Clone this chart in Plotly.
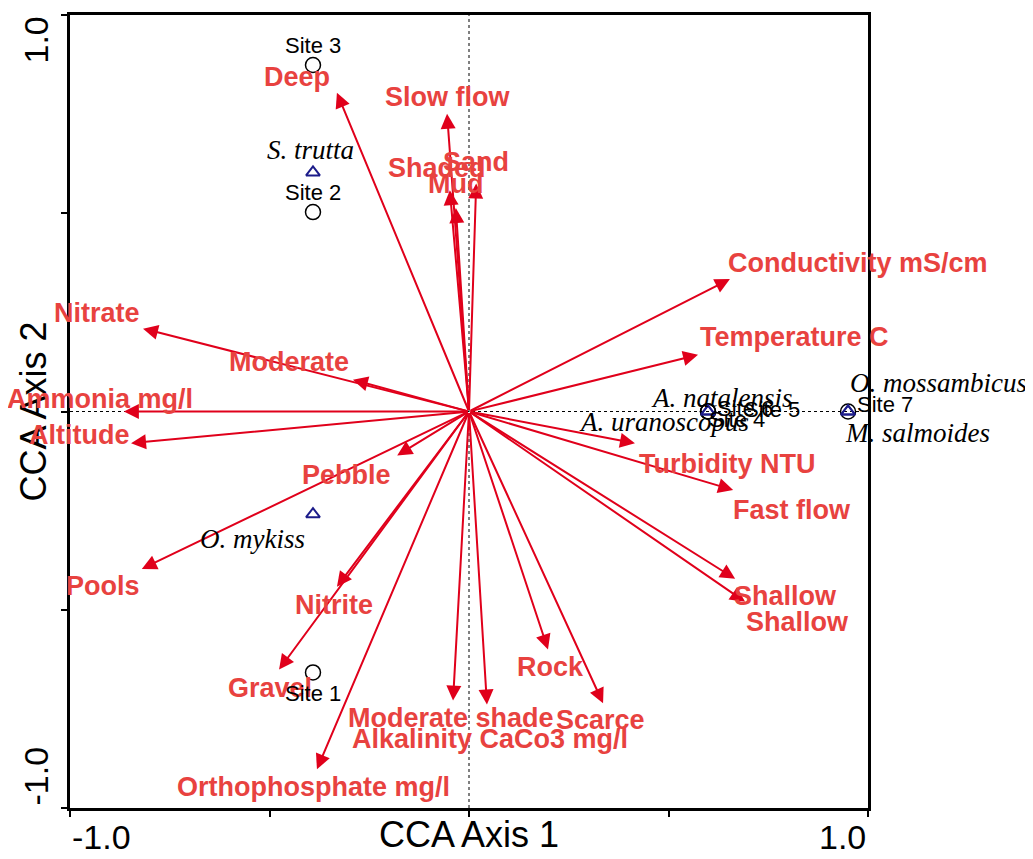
import plotly.graph_objects as go

# ---------------- data ----------------
env_labels = ["Deep", "Slow flow", "Shaded", "Mud", "Sand", "Conductivity mS/cm",
              "Temperature C", "Nitrate", "Moderate", "Ammonia mg/l", "Altitude",
              "Pebble", "Pools", "Nitrite", "Gravel", "Orthophosphate mg/l",
              "Moderate shade", "Alkalinity CaCo3 mg/l", "Rock", "Scarce",
              "Turbidity NTU", "Fast flow", "Shallow", "Shallow"]
env_x = [-0.331, -0.055, -0.048, -0.033, 0.018, 0.654,
         0.574, -0.817, -0.291, -0.865, -0.847,
         -0.180, -0.820, -0.331, -0.476, -0.381,
         -0.040, 0.045, 0.198, 0.336,
         0.416, 0.662, 0.667, 0.692]
env_y = [0.804, 0.751, 0.558, 0.513, 0.575, 0.334,
         0.143, 0.209, 0.080, 0.0, -0.080,
         -0.111, -0.397, -0.442, -0.651, -0.902,
         -0.729, -0.739, -0.600, -0.736,
         -0.080, -0.198, -0.422, -0.480]

site_names = ["Site 1", "Site 2", "Site 3", "Site 4", "Site 5", "Site 6", "Site 7"]
site_x = [-0.391, -0.391, -0.391, 0.599, 0.599, 0.599, 0.950]
site_y = [-0.658, 0.503, 0.874, 0.0, 0.0, 0.0, 0.0]

species_names = ["S. trutta", "O. mykiss", "A. natalensis", "A. uranoscopus",
                 "O. mossambicus", "M. salmoides"]
species_x = [-0.391, -0.391, 0.599, 0.599, 0.950, 0.950]
species_y = [0.603, -0.259, 0.0, 0.0, 0.0, 0.0]

x_tick_vals = [-1.0, -0.5, 0.0, 0.5, 1.0]
y_tick_vals = [-1.0, -0.5, 0.0, 0.5, 1.0]
x_tick_labels = ["-1.0", "1.0"]
y_tick_labels = ["-1.0", "1.0"]

# ---------------- styles (label pixel offsets: dx right, dy down) ----------------
env_offsets = [(-40, -16), (0, -17), (-13, -22), (0, -24), (0, -22), (128, -16),
               (96, -18), (-46, -16), (-64, -18), (-24, -13), (-52, -8),
               (-51, 19), (-39, 17), (-3, 18), (-9, 18), (-3, 18),
               (-2, 17), (3, 34), (2, 18), (-3, 17),
               (92, 21), (59, 20), (50, 17), (52, 20)]
site_offsets = [(0, 21), (0, -20), (0, -19), (29, 8), (64, -2), (37, -3), (37, -7)]
species_offsets = [(-2, -22), (-60, 25), (14, -14), (-44, 10), (90, -29), (69, 21)]

ARROW = "#e0001b"
LABEL = "#e8423f"
NAVY = "#1c1c8a"
SANS = "Liberation Sans, Arial, sans-serif"
SERIF = "Liberation Serif, Times New Roman, serif"

fig = go.Figure()

# zero reference lines
fig.add_shape(type="line", xref="x", yref="y", x0=-1, x1=1, y0=0, y1=0,
              line=dict(color="black", width=1, dash="dot"), layer="below")
fig.add_shape(type="line", xref="x", yref="y", x0=0, x1=0, y0=-1, y1=1,
              line=dict(color="black", width=1, dash="dot"), layer="below")

annotations = []
# biplot arrows
for lab, x, y in zip(env_labels, env_x, env_y):
    annotations.append(dict(x=x, y=y, ax=0, ay=0, xref="x", yref="y",
                            axref="x", ayref="y", text="", showarrow=True,
                            arrowhead=2, arrowsize=1.5, arrowwidth=2,
                            arrowcolor=ARROW))
for lab, x, y, (dx, dy) in zip(env_labels, env_x, env_y, env_offsets):
    annotations.append(dict(x=x, y=y, xref="x", yref="y", text=lab,
                            showarrow=False, xshift=dx, yshift=-dy,
                            font=dict(family=SANS, size=27, color=LABEL,
                                      weight="bold")))

# site points
fig.add_trace(go.Scatter(x=site_x, y=site_y, mode="markers",
                         marker=dict(symbol="circle-open", size=15,
                                     color="black", line=dict(width=1.5)),
                         hoverinfo="text", text=site_names, showlegend=False))
for lab, x, y, (dx, dy) in zip(site_names, site_x, site_y, site_offsets):
    annotations.append(dict(x=x, y=y, xref="x", yref="y", text=lab,
                            showarrow=False, xshift=dx, yshift=-dy,
                            font=dict(family=SANS, size=22, color="black")))

# species points
fig.add_trace(go.Scatter(x=species_x, y=species_y, mode="markers",
                         marker=dict(symbol="triangle-up-open", size=12,
                                     color=NAVY, line=dict(width=2)),
                         hoverinfo="text", text=species_names, showlegend=False))
for lab, x, y, (dx, dy) in zip(species_names, species_x, species_y, species_offsets):
    annotations.append(dict(x=x, y=y, xref="x", yref="y", text="<i>" + lab + "</i>",
                            showarrow=False, xshift=dx, yshift=-dy,
                            font=dict(family=SERIF, size=27, color="black")))

# tick labels
annotations.append(dict(x=x_tick_vals[0], y=0, xref="x", yref="paper",
                        text=x_tick_labels[0], showarrow=False, xanchor="left",
                        yanchor="top", yshift=-8,
                        font=dict(family=SANS, size=34, color="black")))
annotations.append(dict(x=x_tick_vals[-1], y=0, xref="x", yref="paper",
                        text=x_tick_labels[1], showarrow=False, xanchor="right",
                        yanchor="top", yshift=-8,
                        font=dict(family=SANS, size=34, color="black")))
annotations.append(dict(x=0, y=y_tick_vals[0], xref="paper", yref="y",
                        text=y_tick_labels[0], showarrow=False, xanchor="right",
                        yanchor="bottom", xshift=-14, textangle=-90,
                        font=dict(family=SANS, size=34, color="black")))
annotations.append(dict(x=0, y=y_tick_vals[-1], xref="paper", yref="y",
                        text=y_tick_labels[1], showarrow=False, xanchor="right",
                        yanchor="top", xshift=-14, textangle=-90,
                        font=dict(family=SANS, size=34, color="black")))

# page body has an 8px default margin: compensate so the plot box lands at 70..868 x 12..808
fig.update_layout(
    width=1033, height=859,
    margin=dict(l=62, r=173, t=4, b=59),
    plot_bgcolor="white", paper_bgcolor="white",
    annotations=annotations,
    showlegend=False,
    xaxis=dict(range=[-1, 1], showgrid=False, zeroline=False,
               showline=True, linecolor="black", linewidth=3, mirror=True,
               ticks="outside", ticklen=6, tickwidth=2, tickcolor="black",
               tickvals=x_tick_vals, showticklabels=False,
               title=dict(text="CCA Axis 1", standoff=6,
                          font=dict(family=SANS, size=36, color="black"))),
    yaxis=dict(range=[-1, 1], showgrid=False, zeroline=False,
               showline=True, linecolor="black", linewidth=3, mirror=True,
               ticks="outside", ticklen=6, tickwidth=2, tickcolor="black",
               tickvals=y_tick_vals, showticklabels=False,
               title=dict(text="CCA Axis 2", standoff=4,
                          font=dict(family=SANS, size=36, color="black"))),
)

fig.write_html("out.html")
